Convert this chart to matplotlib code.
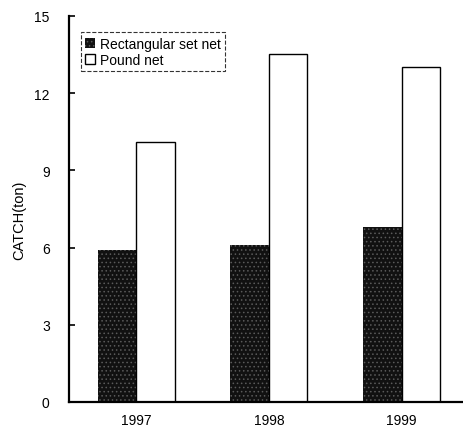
import numpy as np
import matplotlib
matplotlib.use("Agg")
import matplotlib.pyplot as plt

plt.rcParams["font.family"] = ["Liberation Sans", "DejaVu Sans"]
plt.rcParams["hatch.linewidth"] = 0.6

years = ["1997", "1998", "1999"]
rect_set_net = [5.9, 6.1, 6.8]
pound_net = [10.1, 13.5, 13.0]
y_ticks = [0, 3, 6, 9, 12, 15]

fig = plt.figure(figsize=(4.64, 4.31), dpi=100)
ax = fig.add_axes([0.149, 0.065, 0.851, 0.896])

x = np.arange(len(years))
w = 0.29
ax.bar(x - w / 2, rect_set_net, w, facecolor="#111111", edgecolor="#5a5a5a",
       hatch="....", linewidth=0, label="Rectangular set net")
ax.bar(x + w / 2, pound_net, w, facecolor="white", edgecolor="black",
       linewidth=1.0, label="Pound net")

ax.set_xlim(-0.505, 2.47)
ax.set_ylim(0, 15)
ax.set_yticks(y_ticks)
ax.set_xticks(x)
ax.set_xticklabels(years)
ax.tick_params(axis="x", length=0, pad=8, labelsize=10)
ax.tick_params(axis="y", direction="in", length=4, width=1.2, pad=14, labelsize=10)

for s in ["top", "right"]:
    ax.spines[s].set_visible(False)
for s in ["left", "bottom"]:
    ax.spines[s].set_linewidth(1.6)

ax.set_ylabel("CATCH(ton)", fontsize=10.5)
ax.yaxis.set_label_coords(-0.108, 0.474)

leg = ax.legend(loc="upper left", bbox_to_anchor=(0.03, 0.957), fontsize=10,
                frameon=True, fancybox=False, edgecolor="black",
                handlelength=0.7, handleheight=0.7, handletextpad=0.35,
                labelspacing=0.15, borderpad=0.3, borderaxespad=0)
leg.get_frame().set_linestyle("--")
leg.get_frame().set_linewidth(0.8)

fig.savefig("out.png", dpi=100)
